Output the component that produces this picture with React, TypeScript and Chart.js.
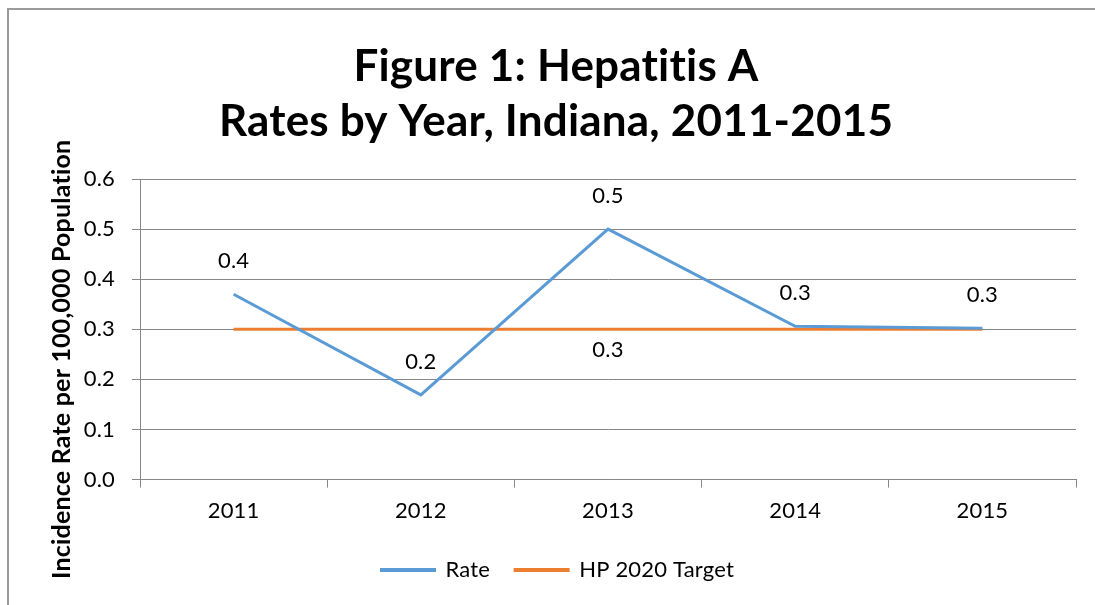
import React, { useEffect, useRef } from "react";
import { Chart, registerables } from "chart.js";

Chart.register(...registerables);

const years = ["2011", "2012", "2013", "2014", "2015"];
const rateValues = [0.37, 0.169, 0.5, 0.306, 0.302];
const targetValues = [0.3, 0.3, 0.3, 0.3, 0.3];
const yTicks = [0, 0.1, 0.2, 0.3, 0.4, 0.5, 0.6];
const titleLines = ["Figure 1: Hepatitis A", "Rates by Year, Indiana, 2011-2015"];
const yAxisTitle = "Incidence Rate per 100,000 Population";
const seriesNames = ["Rate", "HP 2020 Target"];
const targetLabelIndex = 2;

const FONT = "Lato";
const GREY = "#878787";

const noLigaturePlugin = {
  id: "noLigatures",
  beforeDraw(chart: any) {
    try {
      chart.ctx.letterSpacing = "0.2px";
    } catch (e) {}
  },
};

const labelPlugin = {
  id: "valueLabels",
  afterDatasetsDraw(chart: any) {
    const ctx = chart.ctx;
    ctx.save();
    ctx.font = `22px ${FONT}`;
    ctx.fillStyle = "#000";
    ctx.textAlign = "center";
    ctx.textBaseline = "middle";
    const m0 = chart.getDatasetMeta(0);
    m0.data.forEach((pt: any, i: number) => {
      ctx.fillText(rateValues[i].toFixed(1), pt.x, pt.y - 33);
    });
    const m1 = chart.getDatasetMeta(1);
    const p = m1.data[targetLabelIndex];
    if (p) ctx.fillText(targetValues[targetLabelIndex].toFixed(1), p.x, p.y + 21);
    ctx.restore();
  },
};

const yTitlePlugin = {
  id: "yTitle",
  afterDraw(chart: any) {
    const ctx = chart.ctx;
    const area = chart.chartArea;
    ctx.save();
    ctx.font = `bold 25px ${FONT}`;
    ctx.fillStyle = "#000";
    ctx.textAlign = "center";
    ctx.textBaseline = "middle";
    ctx.translate(area.left - 78, (area.top + area.bottom) / 2 + 30);
    ctx.rotate(-Math.PI / 2);
    ctx.fillText(yAxisTitle, 0, 0);
    ctx.restore();
  },
};

export default function App() {
  const ref = useRef<HTMLCanvasElement | null>(null);
  useEffect(() => {
    if (!ref.current) return;
    const chart = new Chart(ref.current, {
      type: "line",
      data: {
        labels: years,
        datasets: [
          {
            label: seriesNames[0],
            data: rateValues,
            borderColor: "#5B9BD5",
            backgroundColor: "#5B9BD5",
            borderWidth: 3,
            pointRadius: 0,
            tension: 0,
          },
          {
            label: seriesNames[1],
            data: targetValues,
            borderColor: "#ED7D31",
            backgroundColor: "#ED7D31",
            borderWidth: 3,
            pointRadius: 0,
            tension: 0,
          },
        ],
      },
      options: {
        animation: false,
        responsive: false,
        layout: { padding: { left: 36, right: 19, top: 0, bottom: 14 } },
        plugins: {
          title: {
            display: true,
            text: titleLines,
            color: "#000",
            font: { family: FONT, size: 44, weight: "bold", lineHeight: 1.25 },
            padding: { top: 39.5, bottom: 29.5 },
          },
          legend: {
            position: "bottom",
            labels: {
              color: "#000",
              font: { family: FONT, size: 22 },
              boxWidth: 53,
              boxHeight: 1,
              padding: 25,
            },
          },
          tooltip: { enabled: false },
        },
        scales: {
          x: {
            type: "category",
            offset: true,
            grid: {
              offset: true,
              drawOnChartArea: false,
              drawTicks: true,
              tickLength: 8,
              color: GREY,
            },
            border: { color: GREY },
            ticks: {
              color: "#000",
              font: { family: FONT, size: 22 },
              padding: 10,
              maxRotation: 0,
            },
          },
          y: {
            min: 0,
            max: 0.6,
            afterFit: (scale: any) => {
              scale.width = 104;
            },
            afterBuildTicks: (scale: any) => {
              scale.ticks = yTicks.map((v) => ({ value: v }));
            },
            grid: { color: GREY, tickLength: 8 },
            border: { color: GREY },
            ticks: {
              color: "#000",
              font: { family: FONT, size: 22 },
              padding: 17,
              callback: (v: any) => Number(v).toFixed(1),
            },
          },
        },
      },
      plugins: [noLigaturePlugin, labelPlugin, yTitlePlugin],
    });
    return () => chart.destroy();
  }, []);
  return (
    <div
      style={{
        position: "fixed",
        left: 0,
        top: 0,
        width: 1095,
        height: 605,
        overflow: "hidden",
        background: "#fff",
      }}
    >
      <div
        style={{
          position: "absolute",
          left: 7,
          top: 8,
          width: 1200,
          height: 700,
          borderLeft: "2px solid #9a9a9a",
          borderTop: "2px solid #9a9a9a",
        }}
      />
      <canvas
        ref={ref}
        width={1095}
        height={605}
        style={{ position: "absolute", left: 0, top: 0, width: 1095, height: 605 }}
      />
    </div>
  );
}
